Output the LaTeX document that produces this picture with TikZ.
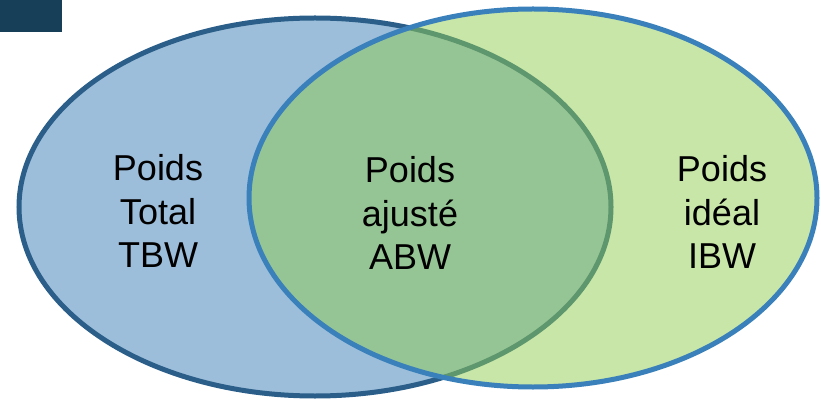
\documentclass[tikz,border=0pt]{standalone}
\usepackage{fontspec}
\setmainfont{Liberation Sans}
\definecolor{tbwfill}{RGB}{156,190,218}
\definecolor{tbwline}{RGB}{43,95,138}
\definecolor{ibwfill}{RGB}{145,205,81}
\definecolor{ibwline}{RGB}{58,128,186}
\definecolor{corner}{RGB}{23,64,88}
\begin{document}
\begin{tikzpicture}[x=1pt,y=-1pt,
  label text/.style={font=\fontsize{36}{43.5}\selectfont, align=center, text=black, inner sep=0pt}]
  \useasboundingbox (0,0) rectangle (821,403);
  % corner block
  \fill[corner] (0,0) rectangle (62,32);
  % total body weight set
  \draw[line width=5pt, draw=tbwline, fill=tbwfill] (315,207) ellipse [x radius=296, y radius=189];
  % ideal body weight set, translucent over the first
  \fill[ibwfill, fill opacity=0.5] (533,198) ellipse [x radius=284, y radius=189];
  \draw[line width=5pt, draw=ibwline] (533,198) ellipse [x radius=284, y radius=189];
  % labels
  \node[label text] (tbw) at (158,211) {Poids\\Total\\TBW};
  \node[label text] (abw) at (410,213) {Poids\\ajusté\\ABW};
  \node[label text] (ibw) at (722,212) {Poids\\idéal\\IBW};
\end{tikzpicture}
\end{document}
